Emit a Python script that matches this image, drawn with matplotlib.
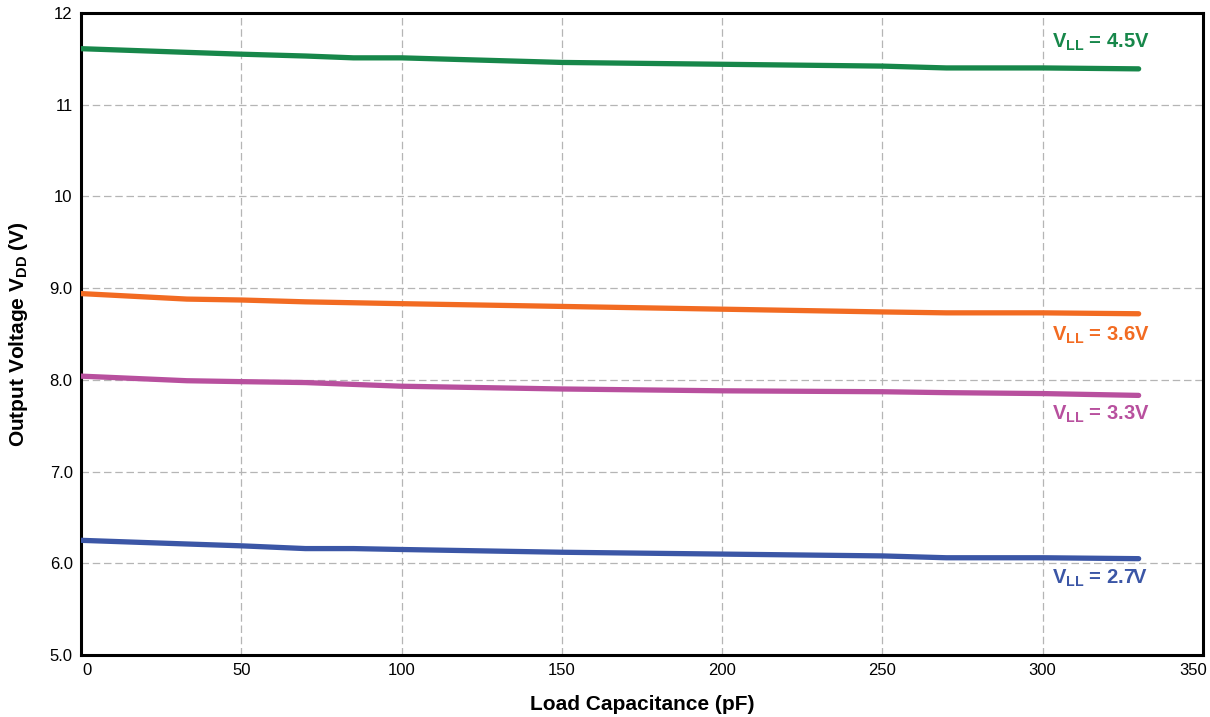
import matplotlib
matplotlib.use("Agg")
import matplotlib.pyplot as plt
from matplotlib.transforms import ScaledTranslation

plt.rcParams['font.family'] = ['Liberation Sans', 'DejaVu Sans']
plt.rcParams['mathtext.fontset'] = 'custom'
plt.rcParams['mathtext.rm'] = 'Liberation Sans'
plt.rcParams['mathtext.bf'] = 'Liberation Sans:bold'

# Load capacitance (pF)
x_vals = [0, 33, 50, 70, 85, 100, 150, 200, 250, 270, 300, 330]
vll_45 = [11.61, 11.57, 11.55, 11.53, 11.51, 11.51, 11.46, 11.44, 11.42, 11.40, 11.40, 11.39]
vll_36 = [8.94, 8.88, 8.87, 8.85, 8.84, 8.83, 8.80, 8.77, 8.74, 8.73, 8.73, 8.72]
vll_33 = [8.04, 7.99, 7.98, 7.97, 7.95, 7.93, 7.90, 7.88, 7.87, 7.86, 7.85, 7.83]
vll_27 = [6.25, 6.21, 6.19, 6.16, 6.16, 6.15, 6.12, 6.10, 6.08, 6.06, 6.06, 6.05]

series_names = ["4.5V", "3.6V", "3.3V", "2.7V"]
series_colors = ["#17874a", "#f26b22", "#b8509e", "#3b56a6"]

y_ticks = [5, 6, 7, 8, 9, 10, 11, 12]
y_ticklabels = ["5.0", "6.0", "7.0", "8.0", "9.0", "10", "11", "12"]
x_ticks = [0, 50, 100, 150, 200, 250, 300, 350]

fig = plt.figure(figsize=(12.10, 7.17), dpi=100)
ax = fig.add_axes([0.067, 0.0865, 0.927, 0.8955])

for vals, color in zip([vll_45, vll_36, vll_33, vll_27], series_colors):
    ax.plot(x_vals, vals, color=color, lw=3.8, solid_capstyle='round', zorder=3)

ax.set_xlim(0, 350)
ax.set_ylim(5, 12)
ax.set_xticks(x_ticks)
ax.set_yticks(y_ticks)
ax.set_yticklabels(y_ticklabels)
ax.tick_params(length=0, labelsize=12, pad=6)
xl = ax.get_xticklabels()
xl[0].set_transform(xl[0].get_transform() + ScaledTranslation(0.06, 0, fig.dpi_scale_trans))
xl[-1].set_transform(xl[-1].get_transform() + ScaledTranslation(-0.10, 0, fig.dpi_scale_trans))
ax.grid(True, color='#b5b5b5', linestyle=(0, (6, 3)), linewidth=0.9)
for s in ax.spines.values():
    s.set_linewidth(2.2)
    s.set_color('black')

ax.set_xlabel("Load Capacitance (pF)", fontsize=15, fontweight='bold', labelpad=12)
ax.set_ylabel(r"Output Voltage $\mathbf{V_{DD}}$ (V)", fontsize=15, fontweight='bold', labelpad=14)

label_pos = [(303, 11.68), (303, 8.49), (303, 7.62), (303, 5.84)]
for name, color, (lx, ly) in zip(series_names, series_colors, label_pos):
    ax.text(lx, ly, r"$\mathbf{V_{LL}}$ = " + name, color=color, fontsize=14.5,
            fontweight='bold', ha='left', va='center')

fig.savefig("out.png", dpi=100)
